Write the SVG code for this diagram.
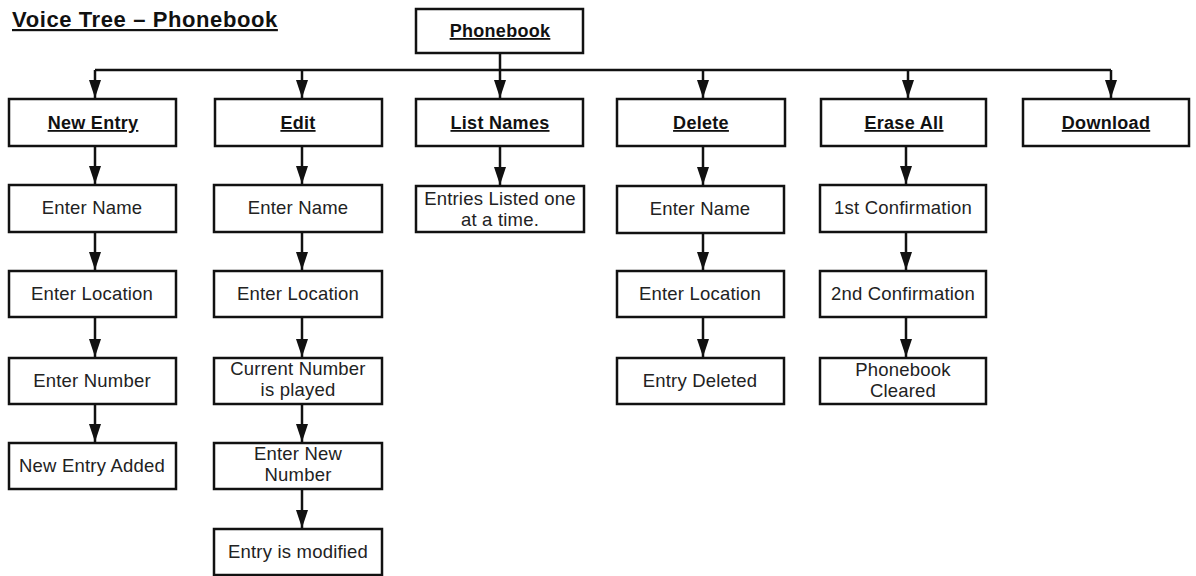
<svg xmlns="http://www.w3.org/2000/svg" width="1196" height="576" viewBox="0 0 1196 576">
<style>
.box{fill:#fff;stroke:#111;stroke-width:2.5}
.t{font-family:"Liberation Sans",Arial,sans-serif;font-size:18.5px;letter-spacing:0.2px;fill:#222;text-anchor:middle}
.h{font-family:"Liberation Sans",Arial,sans-serif;font-size:18px;letter-spacing:0.3px;font-weight:bold;fill:#111;text-anchor:middle;text-decoration:underline}
.title{font-family:"Liberation Sans",Arial,sans-serif;font-size:22px;letter-spacing:0.6px;font-weight:bold;fill:#111;text-decoration:underline}
.c{fill:none;stroke:#111;stroke-width:2.5}
</style>
<defs>
<marker id="ah" markerUnits="userSpaceOnUse" markerWidth="18" markerHeight="12" viewBox="0 0 18 12" refX="18" refY="6" orient="auto">
<path d="M0,0 L18,6 L0,12 Z" fill="#111"/>
</marker>
</defs>
<rect width="1196" height="576" fill="#fff"/>
<text class="title" x="12" y="27">Voice Tree – Phonebook</text>

<g id="connectors">
<path class="c" d="M95,70 H1111"/>
<path class="c" d="M500,53 V98" marker-end="url(#ah)"/>
<path class="c" d="M95,70 V98" marker-end="url(#ah)"/>
<path class="c" d="M302,70 V98" marker-end="url(#ah)"/>
<path class="c" d="M703,70 V98" marker-end="url(#ah)"/>
<path class="c" d="M908,70 V98" marker-end="url(#ah)"/>
<path class="c" d="M1111,70 V98" marker-end="url(#ah)"/>
<path class="c" d="M95,146 V184" marker-end="url(#ah)"/>
<path class="c" d="M95,232 V270" marker-end="url(#ah)"/>
<path class="c" d="M95,317 V357" marker-end="url(#ah)"/>
<path class="c" d="M95,404 V442" marker-end="url(#ah)"/>
<path class="c" d="M302,146 V184" marker-end="url(#ah)"/>
<path class="c" d="M302,232 V270" marker-end="url(#ah)"/>
<path class="c" d="M302,317 V357" marker-end="url(#ah)"/>
<path class="c" d="M302,404 V442" marker-end="url(#ah)"/>
<path class="c" d="M302,489 V528" marker-end="url(#ah)"/>
<path class="c" d="M500,146 V185" marker-end="url(#ah)"/>
<path class="c" d="M703,146 V185" marker-end="url(#ah)"/>
<path class="c" d="M703,233 V270" marker-end="url(#ah)"/>
<path class="c" d="M703,317 V357" marker-end="url(#ah)"/>
<path class="c" d="M906,146 V184" marker-end="url(#ah)"/>
<path class="c" d="M906,232 V270" marker-end="url(#ah)"/>
<path class="c" d="M906,317 V357" marker-end="url(#ah)"/>
</g>

<g id="phonebook"><rect class="box" x="416" y="9" width="167" height="44"/><text class="h" x="500" y="37">Phonebook</text></g>

<g id="new-entry"><rect class="box" x="9" y="99" width="167" height="47"/><text class="h" x="93" y="129">New Entry</text></g>
<g id="edit"><rect class="box" x="215" y="99" width="167" height="47"/><text class="h" x="298" y="129">Edit</text></g>
<g id="list-names"><rect class="box" x="416" y="99" width="167" height="47"/><text class="h" x="500" y="129">List Names</text></g>
<g id="delete"><rect class="box" x="617" y="99" width="168" height="47"/><text class="h" x="701" y="129">Delete</text></g>
<g id="erase-all"><rect class="box" x="821" y="99" width="165" height="47"/><text class="h" x="904" y="129">Erase All</text></g>
<g id="download"><rect class="box" x="1023" y="99" width="166" height="47"/><text class="h" x="1106" y="129">Download</text></g>

<g id="ne-name"><rect class="box" x="9" y="185" width="167" height="47"/><text class="t" x="92" y="214">Enter Name</text></g>
<g id="ne-location"><rect class="box" x="9" y="271" width="167" height="46"/><text class="t" x="92" y="300">Enter Location</text></g>
<g id="ne-number"><rect class="box" x="9" y="358" width="167" height="46"/><text class="t" x="92" y="387">Enter Number</text></g>
<g id="ne-added"><rect class="box" x="9" y="443" width="167" height="46"/><text class="t" x="92" y="472">New Entry Added</text></g>

<g id="ed-name"><rect class="box" x="214" y="185" width="168" height="47"/><text class="t" x="298" y="214">Enter Name</text></g>
<g id="ed-location"><rect class="box" x="214" y="271" width="168" height="46"/><text class="t" x="298" y="300">Enter Location</text></g>
<g id="ed-current"><rect class="box" x="214" y="358" width="168" height="46"/><text class="t" x="298" y="375">Current Number</text><text class="t" x="298" y="396">is played</text></g>
<g id="ed-new"><rect class="box" x="214" y="443" width="168" height="46"/><text class="t" x="298" y="460">Enter New</text><text class="t" x="298" y="481">Number</text></g>
<g id="ed-modified"><rect class="box" x="214" y="529" width="168" height="46"/><text class="t" x="298" y="558">Entry is modified</text></g>

<g id="ln-entries"><rect class="box" x="416" y="186" width="168" height="46"/><text class="t" x="500" y="205">Entries Listed one</text><text class="t" x="500" y="226">at a time.</text></g>

<g id="de-name"><rect class="box" x="617" y="186" width="167" height="47"/><text class="t" x="700" y="215">Enter Name</text></g>
<g id="de-location"><rect class="box" x="617" y="271" width="167" height="46"/><text class="t" x="700" y="300">Enter Location</text></g>
<g id="de-deleted"><rect class="box" x="617" y="358" width="167" height="46"/><text class="t" x="700" y="387">Entry Deleted</text></g>

<g id="ea-first"><rect class="box" x="820" y="185" width="166" height="47"/><text class="t" x="903" y="214">1st Confirmation</text></g>
<g id="ea-second"><rect class="box" x="820" y="271" width="166" height="46"/><text class="t" x="903" y="300">2nd Confirmation</text></g>
<g id="ea-cleared"><rect class="box" x="820" y="358" width="166" height="46"/><text class="t" x="903" y="376">Phonebook</text><text class="t" x="903" y="397">Cleared</text></g>
</svg>
